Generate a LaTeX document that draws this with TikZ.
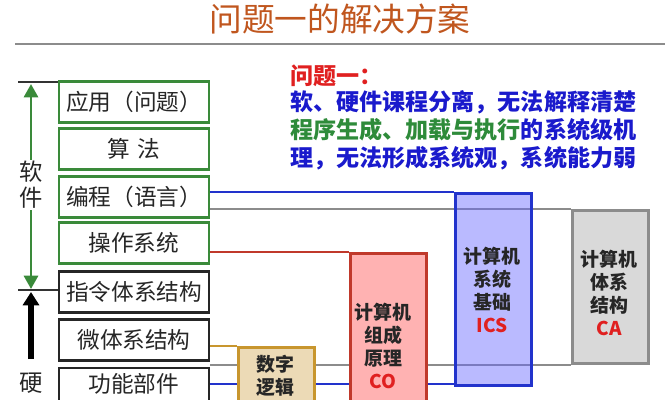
\documentclass[tikz,border=0pt]{standalone}
\usepackage{fontspec}
\setmainfont{Noto Sans CJK SC}
\usepackage{xcolor}
\usetikzlibrary{arrows.meta}

\definecolor{ttl}{HTML}{C0561E}
\definecolor{sgreen}{HTML}{3A8A3A}
\definecolor{sblue}{HTML}{2233CC}
\definecolor{sgray}{HTML}{8C8C8C}
\definecolor{sred}{HTML}{C0392B}
\definecolor{sgold}{HTML}{C8962E}
\definecolor{qred}{HTML}{E02020}
\definecolor{qblue}{HTML}{1A1ACC}
\definecolor{qgreen}{HTML}{2E8B3A}

\begin{document}
\begin{tikzpicture}[x=0.75pt,y=-0.75pt,
    lbox/.style={draw=#1,line width=2.2pt,fill=white,minimum width=112.5pt,minimum height=31pt,
        inner sep=0pt,text=black!85,font=\fontsize{17}{18}\selectfont},
    rbox/.style={anchor=north west,line width=2.2pt,minimum width=57pt,inner sep=0pt},
    rtxt/.style={align=center,font=\fontsize{14.2}{17.2}\selectfont\bfseries,text=black!85},
    cline/.style={line width=1.6pt},
    qtxt/.style={anchor=west,inner sep=0pt,font=\fontsize{17.3}{20}\selectfont\bfseries}]
\useasboundingbox (0,0) rectangle (672,400);

% title
\node[text=ttl,font=\fontsize{24.5}{28}\selectfont] (title) at (340,19) {问题一的解决方案};
\coordinate (rl) at (15,44);
\coordinate (rr) at (665,44);
\draw[sgray,line width=1.5pt] (rl) -- (rr);

% question text
\node[qtxt,text=qred] (q0) at (290,76) {问题一：};
\node[qtxt,text=qblue] (q1) at (290,102) {软、硬件课程分离，无法解释清楚};
\node[qtxt] (q2) at (290,130) {{\color{qgreen}程序生成、加载与执行}{\color{qblue}的系统级机}};
\node[qtxt,text=qblue] (q3) at (290,158) {理，无法形成系统观，系统能力弱};

% layers
\node[lbox=sgreen] (app) at (134,102) {应用（问题）};
\node[lbox=sgreen] (alg) at (134,149) {算\,\,法};
\node[lbox=sgreen] (prog) at (134,197) {编程（语言）};
\node[lbox=sgreen] (os) at (134,243) {操作系统};
\node[lbox=black!85] (isa) at (134,292) {指令体系结构};
\node[lbox=black!85] (micro) at (134,340) {微体系结构};
\node[lbox=black!85,minimum height=36pt] (func) at (134,392) {};
\node[font=\fontsize{17}{18}\selectfont,text=black!85] (funct) at (134,384) {功能部件};

% courses
\node[rbox,draw=sgray,fill=black!15,minimum height=114.75pt] (ca) at (571,209) {};
\node[rbox,draw=sred,fill=red!30,minimum height=126pt] (co) at (349,252) {};
\node[rbox,draw=sgold,fill=sgold!35,minimum height=60pt] (dl) at (237,346) {};

\draw[cline,sblue] (prog.east |- 0,192) -- (454,192);
\draw[cline,sgray] (prog.east |- ca.north west) -- (ca.north west);
\draw[cline,sred] (os.east |- co.north west) -- (co.north west);
\draw[cline,sgold] (micro.east |- dl.north west) -- (dl.north west);
\draw[cline,sgray] (micro.east |- ca.south west) -- (dl.west |- ca.south west);
\draw[cline,sgray] (dl.east |- ca.south west) -- (co.west |- ca.south west);
\draw[cline,sgray] (co.east |- ca.south west) -- (ca.south west);
\draw[cline,sblue] (func.east |- 0,384) -- (dl.west |- 0,384);
\draw[cline,sblue] (dl.east |- 0,384) -- (co.west |- 0,384);
\draw[cline,sblue] (co.east |- 0,384) -- (454,384);

\node[rbox,draw=sblue,fill=blue!60!white,fill opacity=0.45,draw opacity=1,minimum height=144pt] (ics) at (454,192) {};

\node[rtxt] (icst) at (492,290) {计算机\\系统\\基础\\{\color{qred}ICS}};
\node[rtxt] (cat) at (609,293) {计算机\\体系\\结构\\{\color{qred}CA}};
\node[rtxt] (cot) at (383,346) {计算机\\组成\\原理\\{\color{qred}CO}};
\node[rtxt] (dlt) at (275,376) {数字\\逻辑};

% software / hardware
\coordinate (lt) at (18,82);
\coordinate (lm) at (18,290);
\draw[black!80,line width=1pt] (lt) -- (lt -| app.west);
\draw[black!80,line width=1pt] (lm) -- (lm -| isa.west);
\node[fill=white,inner sep=1pt,align=center,font=\fontsize{17.5}{19.5}\selectfont,text=black!85] (sw) at (31,185) {软\\件};
\coordinate (swtop) at (31,84);
\coordinate (swbot) at (31,289);
\draw[sgreen,line width=2.2pt,-{Triangle[width=10.5pt,length=10pt]}] (sw) -- (swtop);
\draw[sgreen,line width=2.2pt,-{Triangle[width=10.5pt,length=10pt]}] (sw) -- (swbot);
\node[font=\fontsize{17.5}{19}\selectfont,text=black!85] (hw) at (31,383) {硬};
\coordinate (hwbot) at (31,359);
\coordinate (hwtop) at (31,292);
\draw[black,line width=3.8pt,-{Triangle[width=12pt,length=10pt]}] (hwbot) -- (hwtop);
\end{tikzpicture}
\end{document}
